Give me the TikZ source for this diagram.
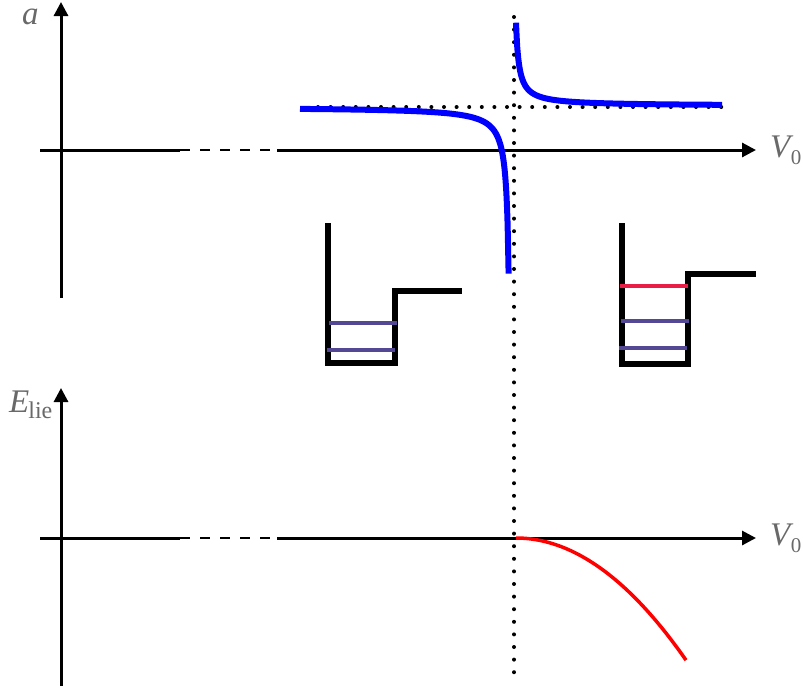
\documentclass[tikz,border=0pt]{standalone}
\usepackage{fontspec}
\setmainfont{Liberation Serif}
\usetikzlibrary{arrows.meta}
\definecolor{lblgray}{RGB}{105,105,105}
\definecolor{curveblue}{RGB}{0,0,255}
\definecolor{levelpurple}{RGB}{84,72,148}
\definecolor{levelred}{RGB}{232,30,70}
\tikzset{
  axis/.style={line width=3pt},
  axisarrow/.style={line width=3pt,-{Triangle[length=14pt,width=14pt]}},
  gapdash/.style={line width=1.3pt,dash pattern=on 10pt off 10pt},
  dotline/.style={line width=4pt,line cap=round,dash pattern=on 0pt off 12.6pt},
  wellwall/.style={line width=6pt,miter limit=10},
  level/.style={line width=4pt},
  lbl/.style={text=lblgray,inner sep=0pt,font=\fontsize{33}{40}\selectfont},
}
\newcommand{\vzerolabel}{\itshape V\kern0.5pt\raisebox{-7pt}{\upshape\fontsize{21}{25}\selectfont 0}}
\begin{document}
\begin{tikzpicture}[x=1pt,y=-1pt]
\useasboundingbox (0,0) rectangle (803,689);
% ---- top graph axes
\coordinate (tyb) at (61,298);
\coordinate (tyt) at (61,2);
\draw[axisarrow] (tyb) -- (tyt);
\coordinate (tx0) at (40,150);
\coordinate (tx1) at (180,150);
\coordinate (tx2) at (277,150);
\coordinate (tx3) at (756,150);
\draw[axis] (tx0) -- (tx1);
\draw[gapdash] (tx1) -- (tx2);
\draw[axisarrow] (tx2) -- (tx3);
\node[lbl,anchor=base west,text height=16pt,text depth=0pt] (la) at (22,24) {\itshape a};
\node[lbl,anchor=base west] (lv1) at (770,157) {\vzerolabel};
% ---- bottom graph axes
\coordinate (byb) at (61,686);
\coordinate (byt) at (61,388);
\draw[axisarrow] (byb) -- (byt);
\coordinate (bx0) at (40,538);
\coordinate (bx1) at (180,538);
\coordinate (bx2) at (277,538);
\coordinate (bx3) at (756,538);
\draw[axis] (bx0) -- (bx1);
\draw[gapdash] (bx1) -- (bx2);
\draw[axisarrow] (bx2) -- (bx3);
\node[lbl,anchor=base west] (lv2) at (770,545) {\vzerolabel};
\node[lbl,anchor=base west] (le) at (9,412) {\itshape E\kern-1pt\raisebox{-6pt}{\upshape\fontsize{24}{28}\selectfont lie}};
% ---- dotted guides
\coordinate (dvt) at (514,17);
\coordinate (dvb) at (514,676);
\draw[dotline] (dvt) -- (dvb);
\coordinate (dhl) at (318,107);
\coordinate (dhr) at (724,107);
\draw[dotline] (dhl) -- (dhr);
% ---- blue curve
\draw[curveblue,line width=6pt] plot[domain=300:508.6,samples=200,smooth] (\x,{107+400/(511-\x)});
\draw[curveblue,line width=6pt] plot[domain=516:722,samples=200,smooth] (\x,{106-250/(\x-513)});
% ---- red curve
\draw[red,line width=3.5pt] plot[domain=516:686,samples=80,smooth] (\x,{538+0.00422*(\x-516)*(\x-516)});
% ---- left well
\draw[wellwall] (328,223) -- (328,363) -- (395,363) -- (395,291) -- (462,291);
\draw[levelpurple,level] (329,323) -- (397,323);
\draw[levelpurple,level] (327,350) -- (395,350);
% ---- right well
\draw[wellwall] (622,223) -- (622,364) -- (688,364) -- (688,274) -- (756,274);
\draw[levelred,level] (620,286) -- (688,286);
\draw[levelpurple,level] (621,321) -- (689,321);
\draw[levelpurple,level] (619,348) -- (687,348);
\end{tikzpicture}
\end{document}
